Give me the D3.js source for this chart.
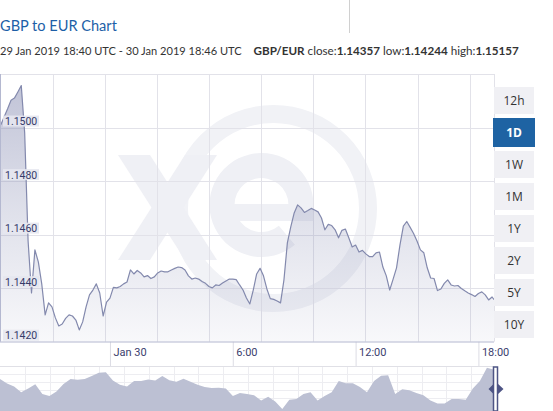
<!DOCTYPE html>
<html><head><meta charset="utf-8">
<script src="https://cdn.jsdelivr.net/npm/d3@7"></script>
<style>
html,body{margin:0;padding:0;background:#fff;}
svg{display:block;font-family:"Lato","Open Sans",sans-serif;}
</style></head><body>
<svg id="c" width="553" height="411"></svg>
<script>
// ---------------- data ----------------
const titleText = "GBP to EUR Chart";
const rangeText = "29 Jan 2019 18:40 UTC - 30 Jan 2019 18:46 UTC";
const pairName = "GBP/EUR";
const closeText = "1.14357";
const lowText = "1.14244";
const highText = "1.15157";

const startTime = "2019-01-29T18:40:00Z";
const endTime = "2019-01-30T18:46:00Z";
const stepMinutes = 10;
// one value every 10 minutes from 18:40, last value is the 18:46 close
const rates = [
  1.15010,1.15040,1.15070,1.15102,1.15110,1.15133,1.15157,1.14980,1.14576,1.14382,
  1.14543,1.14498,1.14416,1.14300,1.14345,1.14330,1.14289,1.14259,1.14266,1.14287,
  1.14300,1.14296,1.14281,1.14244,1.14274,1.14330,1.14375,1.14393,1.14416,1.14382,
  1.14296,1.14348,1.14363,1.14403,1.14401,1.14406,1.14416,1.14423,1.14468,1.14453,
  1.14466,1.14457,1.14442,1.14447,1.14436,1.14442,1.14457,1.14464,1.14461,1.14461,
  1.14468,1.14474,1.14479,1.14477,1.14468,1.14446,1.14434,1.14438,1.14434,1.14425,
  1.14418,1.14406,1.14401,1.14412,1.14410,1.14419,1.14427,1.14434,1.14434,1.14432,
  1.14412,1.14393,1.14363,1.14341,1.14393,1.14453,1.14474,1.14446,1.14397,1.14361,
  1.14358,1.14352,1.14345,1.14431,1.14569,1.14629,1.14681,1.14711,1.14700,1.14683,
  1.14690,1.14698,1.14692,1.14685,1.14662,1.14618,1.14638,1.14634,1.14618,1.14588,
  1.14616,1.14621,1.14588,1.14554,1.14561,1.14535,1.14541,1.14528,1.14518,1.14518,
  1.14532,1.14535,1.14479,1.14446,1.14393,1.14434,1.14476,1.14561,1.14632,1.14649,
  1.14627,1.14604,1.14576,1.14543,1.14532,1.14476,1.14438,1.14436,1.14391,1.14397,
  1.14418,1.14431,1.14412,1.14408,1.14410,1.14399,1.14390,1.14382,1.14376,1.14369,
  1.14380,1.14386,1.14375,1.14356,1.14367,1.14357
];
const yTicks = [1.1420, 1.1440, 1.1460, 1.1480, 1.1500];
const yDomain = [1.1420, 1.1520];
const xTickTimes = ["2019-01-30T00:00:00Z","2019-01-30T06:00:00Z","2019-01-30T12:00:00Z","2019-01-30T18:00:00Z"];
const xTickLabels = ["Jan 30","6:00","12:00","18:00"];
const periods = ["12h","1D","1W","1M","1Y","2Y","5Y","10Y"];
const activePeriod = "1D";
// navigator (long range overview), relative levels read from the strip
const navLevels = [
  85,73,65,50,60,71,45,40,52,72,85,83,85,93,102,103,81,70,65,80,
  80,84,81,93,82,78,86,78,70,64,61,62,60,40,48,45,42,28,38,25,
  5,30,32,45,50,28,40,50,80,74,74,64,50,80,94,95,45,58,55,48,
  42,28,20,20,32,32,30,60,80,115,110
];

// ---------------- layout ----------------
const svg = d3.select("#c");
const P = {left: 0.8, right: 494.1, top: 74, bottom: 341.7};
const t0 = new Date(startTime), t1 = new Date(endTime);
const times = rates.map((d, i) => i === rates.length - 1 ? t1 : new Date(+t0 + i * stepMinutes * 60000));
const series = rates.map((v, i) => ({t: times[i], v}));

const x = d3.scaleUtc().domain([t0, t1]).range([P.left, P.right]);
const y = d3.scaleLinear().domain(yDomain).range([P.bottom, P.top]);

// fit a text's font size so that it spans the wanted width
function fit(sel, base, width) {
  sel.attr("font-size", base);
  const w = sel.node().getComputedTextLength();
  if (w > 0) sel.attr("font-size", base * width / w);
  return sel;
}

// ---------------- header ----------------
fit(svg.append("text").attr("x", 0).attr("y", 31).attr("fill", "#1d5fa7").text(titleText), 17, 117);
fit(svg.append("text").attr("x", 0).attr("y", 55).attr("fill", "#333").text(rangeText), 12.5, 242);
const sum = svg.append("text").attr("x", 253.5).attr("y", 55).attr("fill", "#333");
sum.append("tspan").attr("font-weight", "bold").text(pairName);
sum.append("tspan").text(" close:");
sum.append("tspan").attr("font-weight", "bold").text(closeText);
sum.append("tspan").text(" low:");
sum.append("tspan").attr("font-weight", "bold").text(lowText);
sum.append("tspan").text(" high:");
sum.append("tspan").attr("font-weight", "bold").text(highText);
fit(sum, 12.5, 265.5);
svg.append("line").attr("x1", 349.5).attr("x2", 349.5).attr("y1", 0).attr("y2", 33)
  .attr("stroke", "#d0d0d0");

// ---------------- watermark ----------------
const wm = svg.append("g").attr("fill", "#eff0f5");
wm.append("circle").attr("cx", 273.5).attr("cy", 208.5).attr("r", 94.5)
  .attr("fill", "none").attr("stroke", "#f1f2f6").attr("stroke-width", 18);
wm.append("polygon").attr("points", "118,155 150,155 217,260 185,260");
wm.append("polygon").attr("points", "185,155 217,155 150,260 118,260");
wm.append("path").attr("transform", "translate(261.5,205)")
  .attr("d", d3.arc()({innerRadius: 27, outerRadius: 52, startAngle: 140 * Math.PI / 180, endAngle: 2.5 * Math.PI}));
wm.append("rect").attr("x", 234).attr("y", 204).attr("width", 79).attr("height", 17);

// ---------------- grid ----------------
const grid = svg.append("g").attr("stroke", "#e2e2e9").attr("stroke-width", 1);
[...yTicks.slice(1), yDomain[1]].forEach(v => {
  grid.append("line").attr("x1", 0).attr("x2", P.right).attr("y1", Math.round(y(v)) + 0.5).attr("y2", Math.round(y(v)) + 0.5);
});
const gridStep = (P.right - P.left) / 9.47;
d3.range(1, 10).forEach(i => {
  const gx = Math.round(P.left + i * gridStep) + 0.5;
  grid.append("line").attr("x1", gx).attr("x2", gx).attr("y1", P.top).attr("y2", P.bottom);
});
grid.append("line").attr("x1", 494.5).attr("x2", 494.5).attr("y1", P.top).attr("y2", P.bottom);

// ---------------- area + line ----------------
const defs = svg.append("defs");
const grad = defs.append("linearGradient").attr("id", "ag").attr("gradientUnits", "userSpaceOnUse")
  .attr("x1", 0).attr("x2", 0).attr("y1", P.top).attr("y2", P.bottom);
grad.append("stop").attr("offset", 0).attr("stop-color", "#8a8fb4").attr("stop-opacity", 0.55);
grad.append("stop").attr("offset", 0.5).attr("stop-color", "#8a8fb4").attr("stop-opacity", 0.28);
grad.append("stop").attr("offset", 1).attr("stop-color", "#8a8fb4").attr("stop-opacity", 0.06);

svg.append("path").datum(series).attr("fill", "url(#ag)")
  .attr("d", d3.area().x(d => x(d.t)).y0(P.bottom).y1(d => y(d.v)));
svg.append("path").datum(series).attr("fill", "none").attr("stroke", "#8389ad").attr("stroke-width", 1.2)
  .attr("stroke-linejoin", "round")
  .attr("d", d3.line().x(d => x(d.t)).y(d => y(d.v)));

// left border
svg.append("line").attr("x1", 0.5).attr("x2", 0.5).attr("y1", P.top).attr("y2", P.bottom)
  .attr("stroke", "#b4b8d0");

// ---------------- y labels ----------------
const yl = svg.append("g");
yTicks.forEach(v => {
  const gy = y(v);
  yl.append("rect").attr("x", 3).attr("y", gy - 12).attr("width", 36).attr("height", 11)
    .attr("fill", "#e6e7f0").attr("opacity", 0.9);
  yl.append("text").attr("x", 5).attr("y", gy - 2.5).attr("font-size", 10.5)
    .attr("fill", "#363b6a").attr("font-family", "Roboto, sans-serif")
    .text(d3.format(".4f")(v));
});

// ---------------- x axis ----------------
const xAxis = d3.axisBottom(x)
  .tickValues(xTickTimes.map(s => new Date(s)))
  .tickFormat((d, i) => xTickLabels[i])
  .tickSize(25).tickSizeOuter(0);
const gx = svg.append("g").attr("transform", `translate(0,${P.bottom})`).call(xAxis);
gx.select(".domain").remove();
gx.selectAll(".tick line").attr("stroke", "#dcdce4");
gx.selectAll(".tick text").attr("text-anchor", "start").attr("x", 3).attr("y", 7)
  .attr("dy", "0.71em").attr("font-size", 11).attr("fill", "#3b406d")
  .attr("font-family", "Roboto, sans-serif");
svg.append("line").attr("x1", 0).attr("x2", 494).attr("y1", 342).attr("y2", 342)
  .attr("stroke", "#b4b8d0");

// ---------------- navigator ----------------
const NT = 367, NB = 411;
const nx = d3.scaleLinear().domain([0, navLevels.length - 1]).range([0, 494]);
const ny = d3.scaleLinear().domain([0, 117]).range([NB, NT]);
const ng = svg.append("g");
ng.append("line").attr("x1", 0).attr("x2", 494).attr("y1", NT - 0.5).attr("y2", NT - 0.5).attr("stroke", "#e0e0e6");
d3.range(1, 20).forEach(i => {
  const vx = Math.round(i * 24.8) + 0.5;
  ng.append("line").attr("x1", vx).attr("x2", vx).attr("y1", NT).attr("y2", NB).attr("stroke", "#ededf1");
});
[374, 382, 390, 398].forEach(hy => {
  ng.append("line").attr("x1", 0).attr("x2", 494).attr("y1", hy + 0.5).attr("y2", hy + 0.5).attr("stroke", "#ededf1");
});
ng.append("path").datum(navLevels).attr("fill", "#bcc0d3")
  .attr("d", d3.area().x((d, i) => nx(i)).y0(NB).y1(d => ny(d)));
// handle
ng.append("rect").attr("x", 493.5).attr("y", NT).attr("width", 4).attr("height", NB - NT)
  .attr("fill", "none").attr("stroke", "#4e5585").attr("stroke-width", 1.5);
ng.append("path").attr("fill", "#4e5585")
  .attr("d", "M488.5,389 L494,383.5 L494,394.5 Z M503.5,389 L497.5,383.5 L497.5,394.5 Z");

// ---------------- period buttons ----------------
const bg = svg.append("g");
periods.forEach((p, i) => {
  const by = 87 + i * 32;
  const active = p === activePeriod;
  bg.append("rect").attr("x", active ? 493 : 494).attr("y", by - (active ? 1 : 0))
    .attr("width", active ? 42 : 40).attr("height", active ? 29 : 27)
    .attr("fill", active ? "#1e63a3" : "#f0f0f4");
  bg.append("text").attr("x", 514).attr("y", by + 18).attr("text-anchor", "middle")
    .attr("font-size", 12).attr("fill", active ? "#fff" : "#333")
    .attr("font-weight", active ? "bold" : "normal")
    .attr("font-family", "'Open Sans', sans-serif")
    .text(p);
});
</script>
</body></html>
